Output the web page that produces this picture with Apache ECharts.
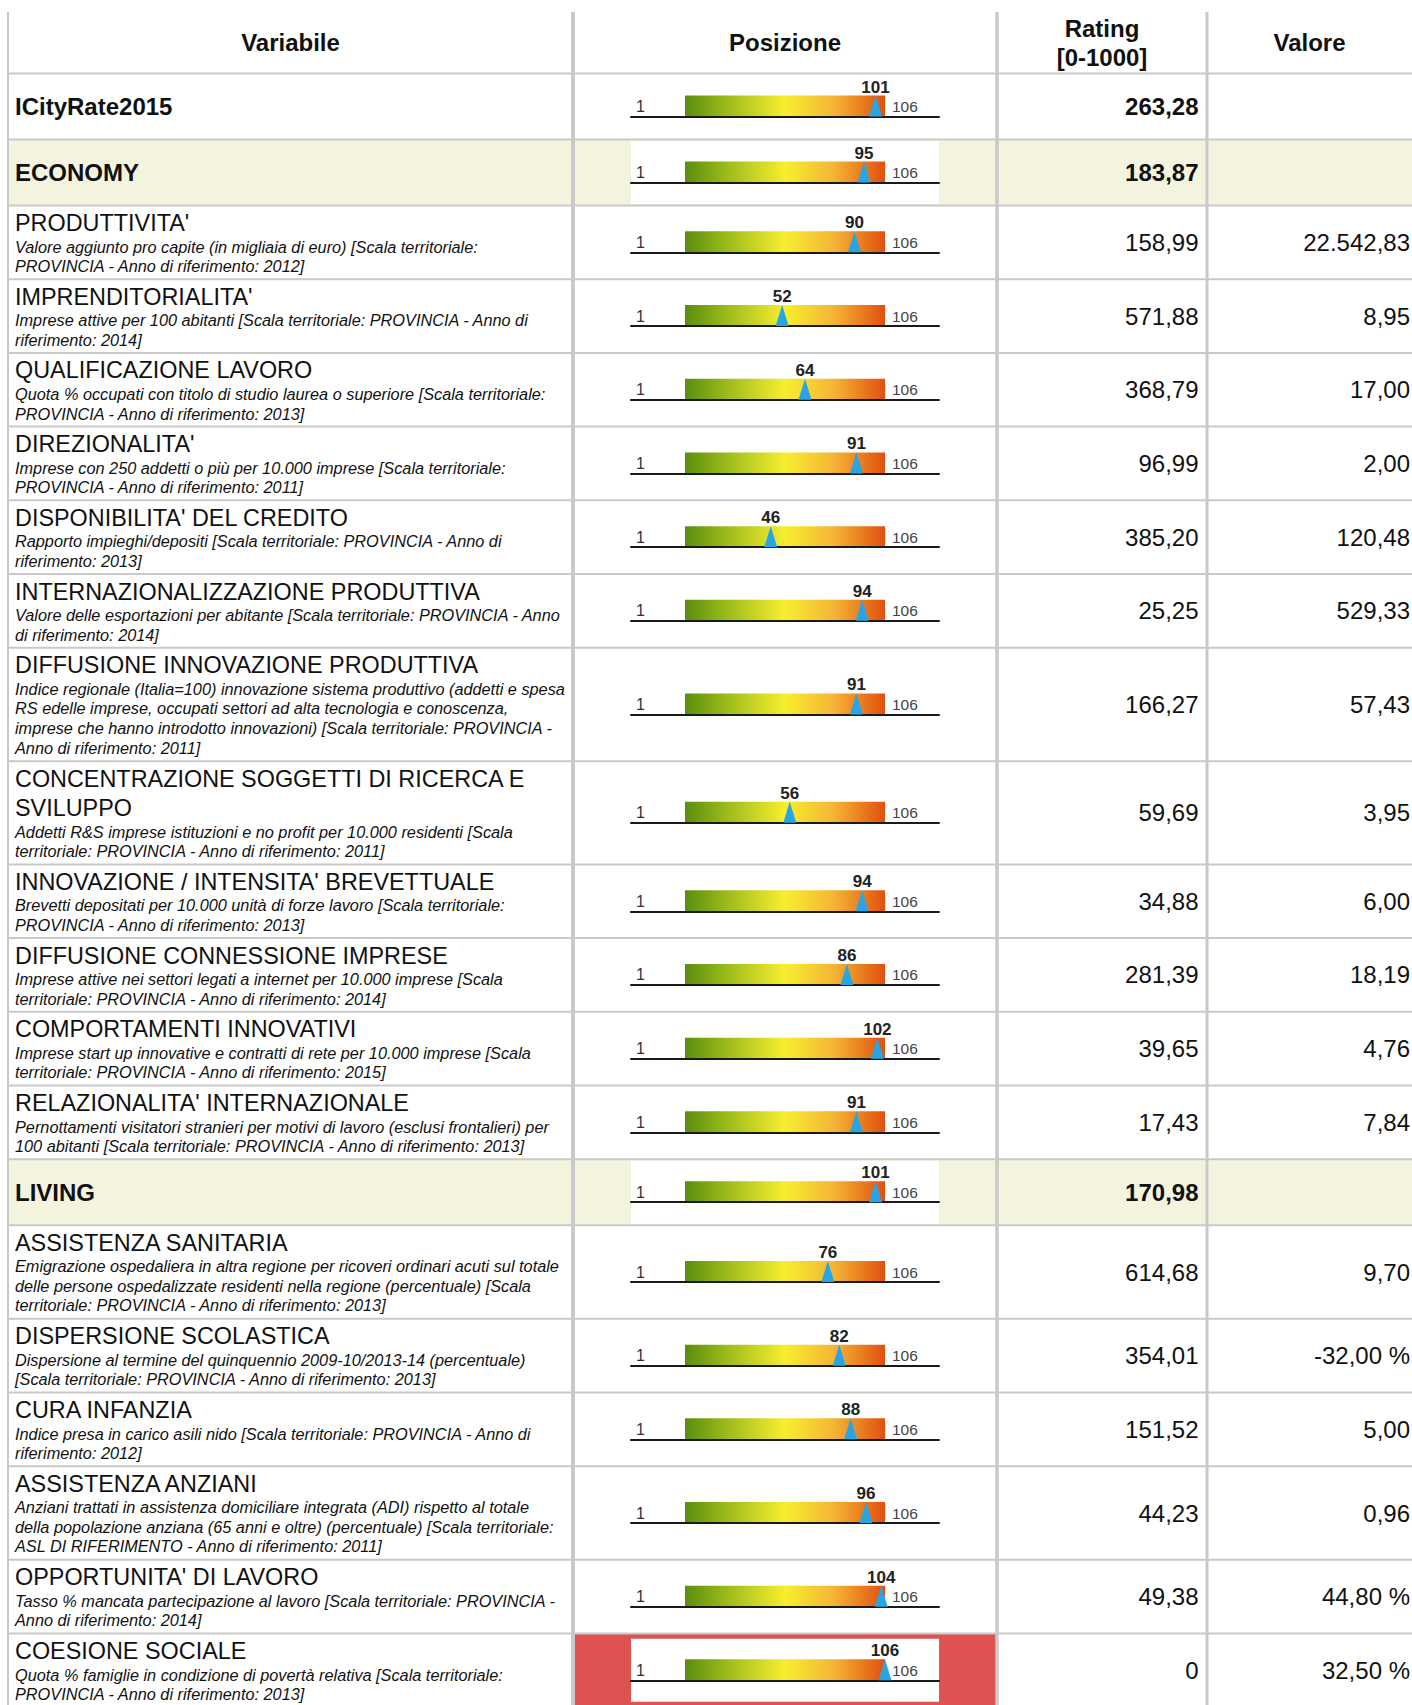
<!DOCTYPE html>
<html>
<head>
<meta charset="utf-8">
<script src="https://cdn.jsdelivr.net/npm/echarts@6/dist/echarts.min.js"></script>
<style>
html,body{margin:0;padding:0;background:#fff;}
#chart{width:1412px;height:1705px;}
</style>
</head>
<body>
<div id="chart"></div>
<script>
// ---------------- DATA ----------------
const headers = ['Variabile', 'Posizione', 'Rating\n[0-1000]', 'Valore'];
const rowKinds = ['total','section','var','var','var','var','var','var','var','var','var','var','var','var','section','var','var','var','var','var','var'];
const rowNames = [
  'ICityRate2015',
  'ECONOMY',
  "PRODUTTIVITA'",
  "IMPRENDITORIALITA'",
  'QUALIFICAZIONE LAVORO',
  "DIREZIONALITA'",
  "DISPONIBILITA' DEL CREDITO",
  'INTERNAZIONALIZZAZIONE PRODUTTIVA',
  'DIFFUSIONE INNOVAZIONE PRODUTTIVA',
  'CONCENTRAZIONE SOGGETTI DI RICERCA E\nSVILUPPO',
  "INNOVAZIONE / INTENSITA' BREVETTUALE",
  'DIFFUSIONE CONNESSIONE IMPRESE',
  'COMPORTAMENTI INNOVATIVI',
  "RELAZIONALITA' INTERNAZIONALE",
  'LIVING',
  'ASSISTENZA SANITARIA',
  'DISPERSIONE SCOLASTICA',
  'CURA INFANZIA',
  'ASSISTENZA ANZIANI',
  "OPPORTUNITA' DI LAVORO",
  'COESIONE SOCIALE'
];
const rowDescs = [
  '',
  '',
  'Valore aggiunto pro capite (in migliaia di euro) [Scala territoriale:\nPROVINCIA - Anno di riferimento: 2012]',
  'Imprese attive per 100 abitanti [Scala territoriale: PROVINCIA - Anno di\nriferimento: 2014]',
  'Quota % occupati con titolo di studio laurea o superiore [Scala territoriale:\nPROVINCIA - Anno di riferimento: 2013]',
  'Imprese con 250 addetti o più per 10.000 imprese [Scala territoriale:\nPROVINCIA - Anno di riferimento: 2011]',
  'Rapporto impieghi/depositi [Scala territoriale: PROVINCIA - Anno di\nriferimento: 2013]',
  'Valore delle esportazioni per abitante [Scala territoriale: PROVINCIA - Anno\ndi riferimento: 2014]',
  'Indice regionale (Italia=100) innovazione sistema produttivo (addetti e spesa\nRS edelle imprese, occupati settori ad alta tecnologia e conoscenza,\nimprese che hanno introdotto innovazioni) [Scala territoriale: PROVINCIA -\nAnno di riferimento: 2011]',
  'Addetti R&S imprese istituzioni e no profit per 10.000 residenti [Scala\nterritoriale: PROVINCIA - Anno di riferimento: 2011]',
  'Brevetti depositati per 10.000 unità di forze lavoro [Scala territoriale:\nPROVINCIA - Anno di riferimento: 2013]',
  'Imprese attive nei settori legati a internet per 10.000 imprese [Scala\nterritoriale: PROVINCIA - Anno di riferimento: 2014]',
  'Imprese start up innovative e contratti di rete per 10.000 imprese [Scala\nterritoriale: PROVINCIA - Anno di riferimento: 2015]',
  'Pernottamenti visitatori stranieri per motivi di lavoro (esclusi frontalieri) per\n100 abitanti [Scala territoriale: PROVINCIA - Anno di riferimento: 2013]',
  '',
  'Emigrazione ospedaliera in altra regione per ricoveri ordinari acuti sul totale\ndelle persone ospedalizzate residenti nella regione (percentuale) [Scala\nterritoriale: PROVINCIA - Anno di riferimento: 2013]',
  'Dispersione al termine del quinquennio 2009-10/2013-14 (percentuale)\n[Scala territoriale: PROVINCIA - Anno di riferimento: 2013]',
  'Indice presa in carico asili nido [Scala territoriale: PROVINCIA - Anno di\nriferimento: 2012]',
  'Anziani trattati in assistenza domiciliare integrata (ADI) rispetto al totale\ndella popolazione anziana (65 anni e oltre) (percentuale) [Scala territoriale:\nASL DI RIFERIMENTO - Anno di riferimento: 2011]',
  'Tasso % mancata partecipazione al lavoro [Scala territoriale: PROVINCIA -\nAnno di riferimento: 2014]',
  'Quota % famiglie in condizione di povertà relativa [Scala territoriale:\nPROVINCIA - Anno di riferimento: 2013]'
];
const positions = [101, 95, 90, 52, 64, 91, 46, 94, 91, 56, 94, 86, 102, 91, 101, 76, 82, 88, 96, 104, 106];
const ratings = [263.28, 183.87, 158.99, 571.88, 368.79, 96.99, 385.20, 25.25, 166.27, 59.69, 34.88, 281.39, 39.65, 17.43, 170.98, 614.68, 354.01, 151.52, 44.23, 49.38, 0];
const values = [null, null, 22542.83, 8.95, 17.00, 2.00, 120.48, 529.33, 57.43, 3.95, 6.00, 18.19, 4.76, 7.84, null, 9.70, -32.00, 5.00, 0.96, 44.80, 32.50];
const valueUnits = ['', '', '', '', '', '', '', '', '', '', '', '', '', '', '', '', '%', '', '', '%', '%'];
const rankMin = 1;
const rankMax = 106;

// ---------------- LAYOUT ----------------
const FONT = '"Liberation Sans", Arial, Helvetica, sans-serif';
const colX = [8, 573, 997, 1207, 1412];
const headerTop = 12, headerBottom = 73.5;
const gaugeLineLeft = 631, gaugeLineRight = 939;
const barLeft = 685, barRight = 885;
const barH = 21;
const gridColor = '#c9c9c9';
const beige = '#f4f4de';
const alertRed = '#de5252';

function fmtIt(v) {
  if (v === 0) return '0';
  const neg = v < 0;
  let [i, d] = Math.abs(v).toFixed(2).split('.');
  i = i.replace(/\B(?=(\d{3})+(?!\d))/g, '.');
  return (neg ? '-' : '') + i + ',' + d;
}
function rowHeight(k) {
  if (rowKinds[k] !== 'var') return 66;
  const tl = rowNames[k].split('\n').length;
  const dl = rowDescs[k].split('\n').length;
  return 73.7 + 29.5 * (tl - 1) + 19.9 * (dl - 2);
}

const rowTops = [];
let yy = headerBottom;
rowNames.forEach((n, k) => { rowTops.push(yy); yy += rowHeight(k); });

const pxPerUnit = (barRight - barLeft) / (rankMax - rankMin);
const axMin = rankMin - (barLeft - gaugeLineLeft) / pxPerUnit;
const axMax = rankMax + (gaugeLineRight - barRight) / pxPerUnit;

const gradient = new echarts.graphic.LinearGradient(0, 0, 1, 0, [
  {offset: 0, color: '#5a8e0d'},
  {offset: 0.22, color: '#9fbd1c'},
  {offset: 0.5, color: '#f7ee2f'},
  {offset: 0.74, color: '#f4b636'},
  {offset: 1, color: '#e1500e'}
]);

const graphics = [];
const grids = [], xAxes = [], yAxes = [], series = [];

rowNames.forEach((name, k) => {
  const top = rowTops[k];
  const h = rowHeight(k);
  const cy = top + h / 2;
  const kind = rowKinds[k];
  const bold = kind !== 'var';

  // backgrounds
  if (kind === 'section') {
    graphics.push({type: 'rect', z: 0, silent: true, shape: {x: colX[0], y: top, width: colX[4] - colX[0], height: h}, style: {fill: beige}});
  }
  const alert = positions[k] === rankMax;
  if (alert) {
    graphics.push({type: 'rect', z: 0, silent: true, shape: {x: colX[1], y: top, width: colX[2] - colX[1], height: h}, style: {fill: alertRed}});
  }
  if (kind === 'section' || alert) {
    graphics.push({type: 'rect', z: 0.5, silent: true, shape: {x: gaugeLineLeft, y: cy - 31.5, width: gaugeLineRight - gaugeLineLeft, height: 63}, style: {fill: '#ffffff'}});
  }

  // texts in first column
  if (bold) {
    graphics.push({type: 'text', z: 10, silent: true, style: {text: name, x: 15, y: cy, fill: '#111', font: 'bold 24px ' + FONT, textVerticalAlign: 'middle'}});
  } else {
    const tl = name.split('\n').length;
    graphics.push({type: 'text', z: 10, silent: true, style: {text: name, x: 15, y: top + 17.5 - 14.75, fill: '#111', font: '23.4px ' + FONT, lineHeight: 29.5, textVerticalAlign: 'top'}});
    graphics.push({type: 'text', z: 10, silent: true, style: {text: rowDescs[k], x: 15, y: top + 31.2 + 29.5 * (tl - 1), fill: '#111', font: 'italic 16.3px ' + FONT, lineHeight: 19.6, textVerticalAlign: 'top'}});
  }

  // rating and value
  graphics.push({type: 'text', z: 10, silent: true, style: {text: fmtIt(ratings[k]), x: 1198.5, y: cy, fill: '#111', font: (bold ? 'bold ' : '') + '24px ' + FONT, textAlign: 'right', textVerticalAlign: 'middle'}});
  if (values[k] !== null) {
    const t = fmtIt(values[k]) + (valueUnits[k] ? ' ' + valueUnits[k] : '');
    graphics.push({type: 'text', z: 10, silent: true, style: {text: t, x: 1410, y: cy, fill: '#111', font: '24px ' + FONT, textAlign: 'right', textVerticalAlign: 'middle'}});
  }

  // gauge
  const baseY = cy + 10;
  grids.push({left: gaugeLineLeft, width: gaugeLineRight - gaugeLineLeft, top: baseY - barH, height: barH});
  xAxes.push({gridIndex: k, type: 'value', min: axMin, max: axMax, z: 3,
    axisLine: {show: true, onZero: false, lineStyle: {color: '#1a1a1a', width: 2}},
    axisTick: {show: false}, axisLabel: {show: false}, splitLine: {show: false}});
  yAxes.push({gridIndex: k, type: 'value', min: 0, max: 1, show: false});
  series.push({type: 'scatter', xAxisIndex: k, yAxisIndex: k, z: 1, silent: true, symbolSize: 0,
    data: [[rankMin, 0]],
    markArea: {silent: true, itemStyle: {color: gradient, opacity: 1, borderWidth: 0},
      data: [[{xAxis: rankMin, yAxis: 0}, {xAxis: rankMax, yAxis: 1}]]}});
  series.push({type: 'scatter', xAxisIndex: k, yAxisIndex: k, z: 4, silent: true,
    symbol: 'triangle', symbolSize: [13, barH], itemStyle: {color: '#29a5e6', opacity: 1},
    data: [[positions[k], 0.5]],
    label: {show: true, position: 'top', distance: 0, formatter: p => String(p.value[0]),
      fontFamily: FONT, fontWeight: 'bold', fontSize: 17, color: '#222'}});
  // end labels
  graphics.push({type: 'text', z: 10, silent: true, style: {text: String(rankMin), x: 636, y: baseY - 2, fill: '#333', font: '16px ' + FONT, textVerticalAlign: 'bottom'}});
  graphics.push({type: 'text', z: 10, silent: true, style: {text: String(rankMax), x: 892, y: baseY - 2, fill: '#444', font: '15.5px ' + FONT, textVerticalAlign: 'bottom'}});
});

// header texts
const headerCy = (headerTop + headerBottom) / 2;
headers.forEach((h, c) => {
  graphics.push({type: 'text', z: 10, silent: true, style: {text: h, x: (colX[c] + colX[c + 1]) / 2, y: headerCy, fill: '#111', font: 'bold 24px ' + FONT, lineHeight: 29, textAlign: 'center', textVerticalAlign: 'middle'}});
});

// horizontal grid lines
[headerBottom].concat(rowTops.slice(1)).forEach(y => {
  graphics.push({type: 'line', z: 1, silent: true, shape: {x1: colX[0], y1: y, x2: colX[4], y2: y}, style: {stroke: gridColor, lineWidth: 2}});
});
// vertical grid lines
const vWidths = [2, 4, 3.5, 3];
colX.slice(0, 4).forEach((x, c) => {
  graphics.push({type: 'line', z: 1, silent: true, shape: {x1: x, y1: headerTop, x2: x, y2: 1705}, style: {stroke: gridColor, lineWidth: vWidths[c]}});
});

const chart = echarts.init(document.getElementById('chart'), null, {renderer: 'svg', width: 1412, height: 1705});
chart.setOption({
  animation: false,
  backgroundColor: '#ffffff',
  grid: grids,
  xAxis: xAxes,
  yAxis: yAxes,
  series: series,
  graphic: {elements: graphics}
});
</script>
</body>
</html>
